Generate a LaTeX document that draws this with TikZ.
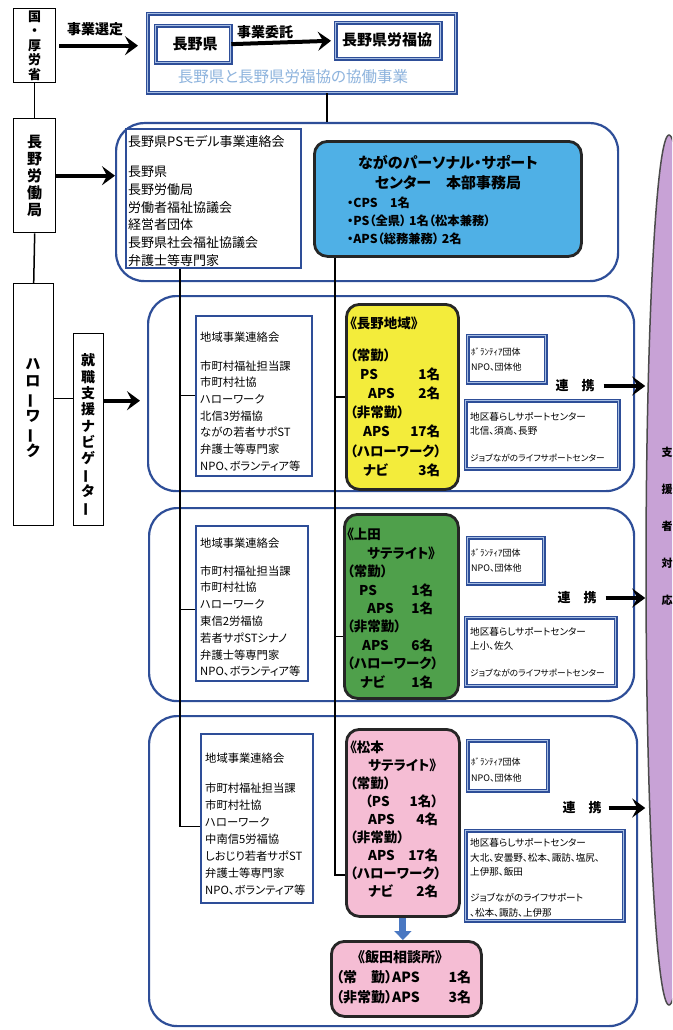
\documentclass[tikz,border=0pt]{standalone}
\usepackage{fontspec}
\setmainfont[RawFeature=+palt]{Noto Sans CJK JP}
\usetikzlibrary{arrows.meta,shapes.geometric,calc}
\definecolor{rb}{HTML}{2E4E98}
\definecolor{lb}{HTML}{A7BEE3}
\definecolor{skyb}{HTML}{4FB0E6}
\definecolor{yelc}{HTML}{F3EC3B}
\definecolor{grnc}{HTML}{4FA04B}
\definecolor{pnkc}{HTML}{F5BDD4}
\definecolor{purp}{HTML}{C8A2D6}
\definecolor{ltc}{HTML}{8DB3DD}
\definecolor{abc}{HTML}{4A78C2}
\newcommand\fsz[2]{\fontsize{#1}{#2}\selectfont}
\newcommand\mybox[6]{\node[#1, anchor=north west, inner sep=0pt, minimum width={(#5-#3)*1pt}, minimum height={(#6-#4)*1pt}] (#2) at (#3,#4) {};}
\newcommand\vbar{\rotatebox[origin=c]{90}{ー}}
\tikzset{
 region/.style={draw=rb, line width=2.2pt, rounded corners=28pt},
 cbox/.style={draw=rb, line width=1.6pt, fill=white},
 dbox/.style={draw=rb, line width=1.3pt, double=lb, double distance=1.2pt, fill=white},
 colbox/.style={draw=black!85, line width=2.8pt, rounded corners=13pt},
 kbox/.style={draw=black, line width=1.4pt, fill=white},
 arr/.style={line width=4pt, -{Stealth[length=13pt,width=19pt,inset=5pt]}},
 barr/.style={draw=abc, line width=7pt, -{Triangle[length=9pt,width=17pt]}},
 link/.style={line width=1.3pt, draw=black},
 tx/.style={inner sep=0pt, align=left, anchor=north west},
 ct/.style={inner sep=0pt, align=center},
}
\begin{document}
\begin{tikzpicture}[x=1pt,y=-1pt]
\useasboundingbox (0,0) rectangle (672,1030);
\clip (0,0) rectangle (672,1030);
\fill[white] (0,0) rectangle (672,1030);

% support ellipse
\node[ellipse, draw=black!70, line width=1.5pt, fill=purp, minimum width=46pt, minimum height=870pt] (supp) at (669,570) {};
\node[ct, font=\fsz{11}{37}\bfseries] (suppt) at (667,526) {支\\援\\者\\対\\応};

% top
\mybox{kbox}{kuni}{13}{8}{55}{82}
\node[ct, font=\fsz{13}{14.5}\bfseries] (kunit) at (kuni) {国\\・\\厚\\労\\省};
\node[ct, font=\fsz{14}{16}\bfseries] (selt) at (95,29) {事業選定};
\mybox{dbox}{topbox}{147}{13}{455}{92}
\mybox{dbox}{nagano}{155}{25}{230}{62}
\node[ct, font=\fsz{15}{16}\bfseries] (naganot) at (195,44) {長野県};
\mybox{dbox}{rofuku}{335}{22}{440}{58}
\node[ct, font=\fsz{15}{16}\bfseries] (rofukut) at (387,40) {長野県労福協};
\node[ct, font=\fsz{14}{16}\bfseries] (itakut) at (265,32) {事業委託};
\node[ct, font=\fsz{15.5}{16}, text=ltc] (kyodot) at (293,77) {長野県と長野県労福協の協働事業};
\draw[arr, shorten <=3pt, shorten >=9pt] (kuni.east) -- (kuni.east -| topbox.west);
\draw[arr, shorten >=4pt] (nagano.east) -- (rofuku.west);

% left column
\mybox{kbox}{rokyoku}{13}{118}{55}{232}
\node[ct, font=\fsz{15}{17}\bfseries] (rokyokut) at (rokyoku) {長\\野\\労\\働\\局};
\mybox{kbox}{hw}{13}{283}{53}{525}
\node[ct, font=\fsz{15}{17.5}\bfseries] (hwt) at (33,408) {ハ\\ロ\\\vbar\\ワ\\\vbar\\ク};
\mybox{kbox}{navi}{73}{333}{103}{525}
\node[ct, font=\fsz{14}{16.3}\bfseries] (navit) at (88,435) {就\\職\\支\\援\\ナ\\ビ\\ゲ\\\vbar\\タ\\\vbar};
\draw[link, line width=1.5pt] (kuni.south) -- (rokyoku.north);
\draw[link, line width=1.5pt] (rokyoku.south) -- (hw.north);
\draw[link, line width=1.5pt] ($(hw.east)+(0,-6)$) -- ($(hw.east -| navi.west)+(0,-6)$);

% regions
\mybox{region}{psreg}{115}{122}{617}{280}
\mybox{region}{reg1}{147}{295}{633}{490}
\mybox{region}{reg2}{148}{507}{633}{700}
\mybox{region}{reg3}{148}{715}{636}{1025}

\coordinate (c1) at (327,0);
\draw[link, line width=2.6pt] (topbox.south -| c1) -- (psreg.north -| c1);
\draw[arr] (rokyoku.east) -- (rokyoku.east -| psreg.west);
\draw[arr, shorten >=7pt] ($(navi.east)+(0,-29)$) -- ($(navi.east -| reg1.west)+(0,-29)$);

% PS model
\mybox{cbox}{psin}{125}{128}{300}{267}
\node[tx, font=\fsz{13}{17.8}] (pst) at (128,135.5) {長野県PSモデル事業連絡会\\[12pt]長野県\\長野労働局\\労働者福祉協議会\\経営者団体\\長野県社会福祉協議会\\弁護士等専門家};
\mybox{colbox, fill=skyb}{hq}{313}{140}{580}{255}
\node[ct, font=\fsz{15}{20}\bfseries] (hqt) at (448,173) {ながのパーソナル・サポート\\センター　本部事務局};
\node[tx, font=\fsz{12.3}{18}\bfseries] (hqs) at (347,196.85) {・CPS　1名\\・PS（全県） 1名（松本兼務）\\・APS（総務兼務） 2名};

% council boxes
\mybox{cbox}{cc1}{195}{315}{311}{475}
\node[tx, font=\fsz{11.3}{16.7}] (cc1t) at (200,331.35) {地域事業連絡会\\[12.3pt]市町村福祉担当課\\市町村社協\\ハローワーク\\北信3労福協\\ながの若者サポST\\弁護士等専門家\\NPO、ボランティア等};
\mybox{cbox}{cc2}{195}{525}{307}{680}
\node[tx, font=\fsz{11.3}{16.8}] (cc2t) at (200,537.35) {地域事業連絡会\\[11.2pt]市町村福祉担当課\\市町村社協\\ハローワーク\\東信2労福協\\若者サポSTシナノ\\弁護士等専門家\\NPO、ボランティア等};
\mybox{cbox}{cc3}{200}{733}{312}{902}
\node[tx, font=\fsz{11.3}{17.1}] (cc3t) at (205,752.35) {地域事業連絡会\\[12.9pt]市町村福祉担当課\\市町村社協\\ハローワーク\\中南信5労福協\\しおじり若者サポST\\弁護士等専門家\\NPO、ボランティア等};

% spines
\coordinate (ls) at (180,0);
\coordinate (cs) at (335,0);
\draw[link] (psin.south -| ls) |- ($(cc3.west)+(0,8)$);
\draw[link] (ls |- cc1.west) -- (cc1.west);
\draw[link] ($(ls |- cc2.west)+(0,6)$) -- ($(cc2.west)+(0,6)$);

% colored boxes
\mybox{colbox, fill=yelc}{yelbox}{345}{303}{457}{488}
\node[tx, text width=90pt, font=\fsz{13.5}{19.2}\bfseries] (yelt) at (350,316.25) {《長野地域》\\[12.8pt]（常勤）\\\hspace*{10pt}PS\hfill 1名\\\hspace*{18pt}APS\hfill 2名\\（非常勤）\\\hspace*{13pt}APS\hfill 17名\\（ハローワーク）\\\hspace*{13pt}ナビ\hfill 3名};
\mybox{colbox, fill=grnc}{grnbox}{343}{513}{457}{697}
\node[tx, text width=86pt, font=\fsz{13.5}{18.4}\bfseries] (grnt) at (347,528.25) {《上田\\\hspace*{20pt}サテライト》\\（常勤）\\\hspace*{12pt}PS\hfill 1名\\\hspace*{20pt}APS\hfill 1名\\（非常勤）\\\hspace*{15pt}APS\hfill 6名\\（ハローワーク）\\\hspace*{13pt}ナビ\hfill 1名};
\mybox{colbox, fill=pnkc}{pinkbox}{345}{728}{458}{915}
\node[tx, text width=88pt, font=\fsz{13.5}{18.1}\bfseries] (pinkt) at (350,740.25) {《松本\\\hspace*{18pt}サテライト》\\（常勤）\\\hspace*{15pt}（PS\hfill 1名）\\\hspace*{18pt}APS\hfill 4名\\（非常勤）\\\hspace*{18pt}APS\hfill 17名\\（ハローワーク）\\\hspace*{18pt}ナビ\hfill 2名};
\mybox{colbox, fill=pnkc}{iida}{330}{940}{480}{1015}
\node[ct, font=\fsz{14}{20}\bfseries] (iidat) at (400,957) {《飯田相談所》};
\node[tx, text width=135pt, font=\fsz{14}{20}\bfseries] (iidat2) at (336,970) {（常　勤）APS\hfill 1名\\（非常勤）APS\hfill 3名};
\draw[barr] (pinkbox.south) -- (pinkbox.south |- iida.north);

\draw[link] (hq.south -| cs) |- ($(pinkbox.west)+(0,52)$);
\draw[link] (cs |- yelbox.west) -- (yelbox.west);
\draw[link] ($(cs |- grnbox.west)+(0,30)$) -- ($(grnbox.west)+(0,30)$);

% small boxes
\mybox{dbox}{vol1}{467}{335}{545}{382}
\node[tx, font=\fsz{9}{15}] (vol1t) at (471,347.5) {ﾎﾞﾗﾝﾃｨｱ団体\\NPO、団体他};
\mybox{dbox}{chi1}{465}{400}{618}{468}
\node[tx, font=\fsz{9.6}{14}] (chi1t) at (470,412.2) {地区暮らしサポートセンター\\北信、須高、長野\\[13pt]{\fsz{8.7}{14}ジョブながのライフサポートセンター}};
\mybox{dbox}{vol2}{467}{537}{543}{583}
\node[tx, font=\fsz{9}{15}] (vol2t) at (471,548.5) {ﾎﾞﾗﾝﾃｨｱ団体\\NPO、団体他};
\mybox{dbox}{chi2}{465}{617}{615}{685}
\node[tx, font=\fsz{9.6}{14}] (chi2t) at (470,627.2) {地区暮らしサポートセンター\\上小、佐久\\[13pt]{\fsz{8.7}{14}ジョブながのライフサポートセンター}};
\mybox{dbox}{vol3}{467}{740}{547}{790}
\node[tx, font=\fsz{9}{16}] (vol3t) at (471,757.5) {ﾎﾞﾗﾝﾃｨｱ団体\\NPO、団体他};
\mybox{dbox}{chi3}{465}{830}{623}{920}
\node[tx, font=\fsz{9.6}{14.5}] (chi3t) at (470,838.2) {地区暮らしサポートセンター\\大北、安曇野、松本、諏訪、塩尻、\\上伊那、飯田\\[11.5pt]ジョブながのライフサポート\\、松本、諏訪、上伊那};

% renkei
\node[ct, font=\fsz{13}{14}\bfseries] (rk1) at (575,386) {連　携};
\node[ct, font=\fsz{13}{14}\bfseries] (rk2) at (577,598) {連　携};
\node[ct, font=\fsz{13}{14}\bfseries] (rk3) at (582,808) {連　携};
\draw[arr, shorten <=9pt] (rk1.east) -- (rk1.east -| supp.west);
\draw[arr, shorten <=9pt] (rk2.east) -- (rk2.east -| supp.west);
\draw[arr, shorten <=7pt] (rk3.east) -- (rk3.east -| supp.west);
\end{tikzpicture}
\end{document}
